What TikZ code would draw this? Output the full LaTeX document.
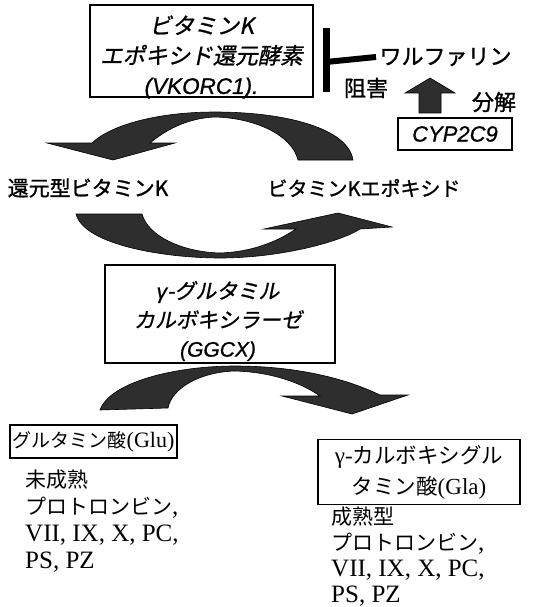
\documentclass[tikz,border=0pt]{standalone}
\usepackage{fontspec}
\setmainfont{Liberation Serif}
\newfontfamily\jp{Noto Sans CJK JP}
\newfontfamily\jpb[FakeBold=1.2]{Noto Sans CJK JP}
\newfontfamily\jpit[FakeSlant=0.2,FakeBold=1.0]{Noto Sans CJK JP}
\newfontfamily\arial{Liberation Sans}
\newfontfamily\arialb[FakeBold=0.8]{Liberation Sans Italic}
\begin{document}
\begin{tikzpicture}[x=1pt,y=-1pt,
  box/.style={draw, line width=1.2pt, inner sep=0pt},
  band/.style={fill=black!82, draw=black, line width=0.6pt},
  lab/.style={font=\fontsize{21}{27}\selectfont\jpb},
  lat/.style={font=\fontsize{25}{27}\selectfont}]
\useasboundingbox (0,0) rectangle (538,607);
% VKORC1 box
\node[box, minimum width=223pt, minimum height=92pt] (vk) at (201.5,51) {};
\node[font=\fontsize{22.5}{30}\selectfont, align=center] (vkt) at (201.5,57) {{\jpit ビタミンK}\\{\jpit エポキシド還元酵素}\\{\arialb (VKORC1).}};
% warfarin and inhibition
\node[font=\fontsize{22}{27}\selectfont\jpb, anchor=west] (war) at (376,57) {ワルファリン};
\coordinate (tb) at (326,62);
\draw[line width=6pt] (war.west) -- (tb);
\draw[line width=7pt] (326,28) -- (326,92);
\node[font=\fontsize{22}{27}\selectfont\jpb] (inh) at (366,88) {阻害};
% CYP2C9
\node[box, minimum width=114pt, minimum height=32pt, font=\fontsize{22}{26}\selectfont\arialb] (cyp) at (455,134) {CYP2C9};
\fill[band] (419,113) -- (419,93) -- (405,93) -- (430,78) -- (455,93) -- (441,93) -- (441,113) -- cycle;
\node[font=\fontsize{22}{27}\selectfont\jpb] (dec) at (494,102) {分解};
% top curved arrow
\fill[band] (353,160) .. controls (348,128) and (285,112) .. (215,112) .. controls (160,112) and (112,124) .. (92,143) -- (47,143) -- (113,160) -- (175,143) -- (150,143) .. controls (168,128) and (190,118) .. (215,117) .. controls (255,118) and (292,135) .. (298,160) -- cycle;
% labels
\node[lab] (red) at (88,188) {還元型ビタミンK};
\node[lab, font=\fontsize{20}{27}\selectfont\jpb] (epo) at (364,188) {ビタミンKエポキシド};
% middle curved arrow
\fill[band] (76,214) .. controls (84,245) and (165,258) .. (220,258) .. controls (280,258) and (340,242) .. (360,229) -- (392,227) -- (338,213) -- (264,229) -- (296,229) .. controls (275,243) and (250,252) .. (220,253) .. controls (182,252) and (148,236) .. (142,214) -- cycle;
% GGCX box
\node[box, minimum width=230pt, minimum height=98pt] (gg) at (220,314) {};
\node[font=\fontsize{21}{29}\selectfont, align=center] (ggt) at (218,321) {{\arialb γ}{\jpit -グルタミル}\\{\jpit カルボキシラーゼ}\\{\arialb (GGCX)}};
% lower curved arrow
\fill[band] (100,410) .. controls (110,382) and (175,366) .. (235,366) .. controls (295,366) and (345,378) .. (380,395) -- (408,395) -- (352,414) -- (282,396) -- (320,396) .. controls (300,382) and (270,372) .. (235,371) .. controls (200,372) and (172,388) .. (168,408) -- cycle;
% Glu / Gla boxes
\node[box, minimum width=167pt, minimum height=33pt, font=\fontsize{19}{26}\selectfont] (glu) at (93.5,441.5) {{\jp グルタミン酸}{\fontsize{22}{26}\selectfont(Glu)}};
\node[box, minimum width=202pt, minimum height=65pt, align=center, font=\fontsize{23}{31}\selectfont] (gla) at (419,472) {γ-{\fontsize{21.5}{31}\selectfont\jp カルボキシグル}\\{\fontsize{21.5}{31}\selectfont\jp タミン酸}(Gla)};
% descriptions
\node[anchor=north west, align=left, inner sep=0pt, lat] (imm) at (25,470) {{\fontsize{21}{27}\selectfont\jp 未成熟}\\{\fontsize{21}{27}\selectfont\jp プロトロンビン},\\VII, IX, X, PC,\\PS, PZ};
\node[anchor=north west, align=left, inner sep=0pt, lat, font=\fontsize{25}{26}\selectfont] (mat) at (331,507) {{\fontsize{21}{26}\selectfont\jp 成熟型}\\{\fontsize{21}{26}\selectfont\jp プロトロンビン},\\VII, IX, X, PC,\\PS, PZ};
\end{tikzpicture}
\end{document}
